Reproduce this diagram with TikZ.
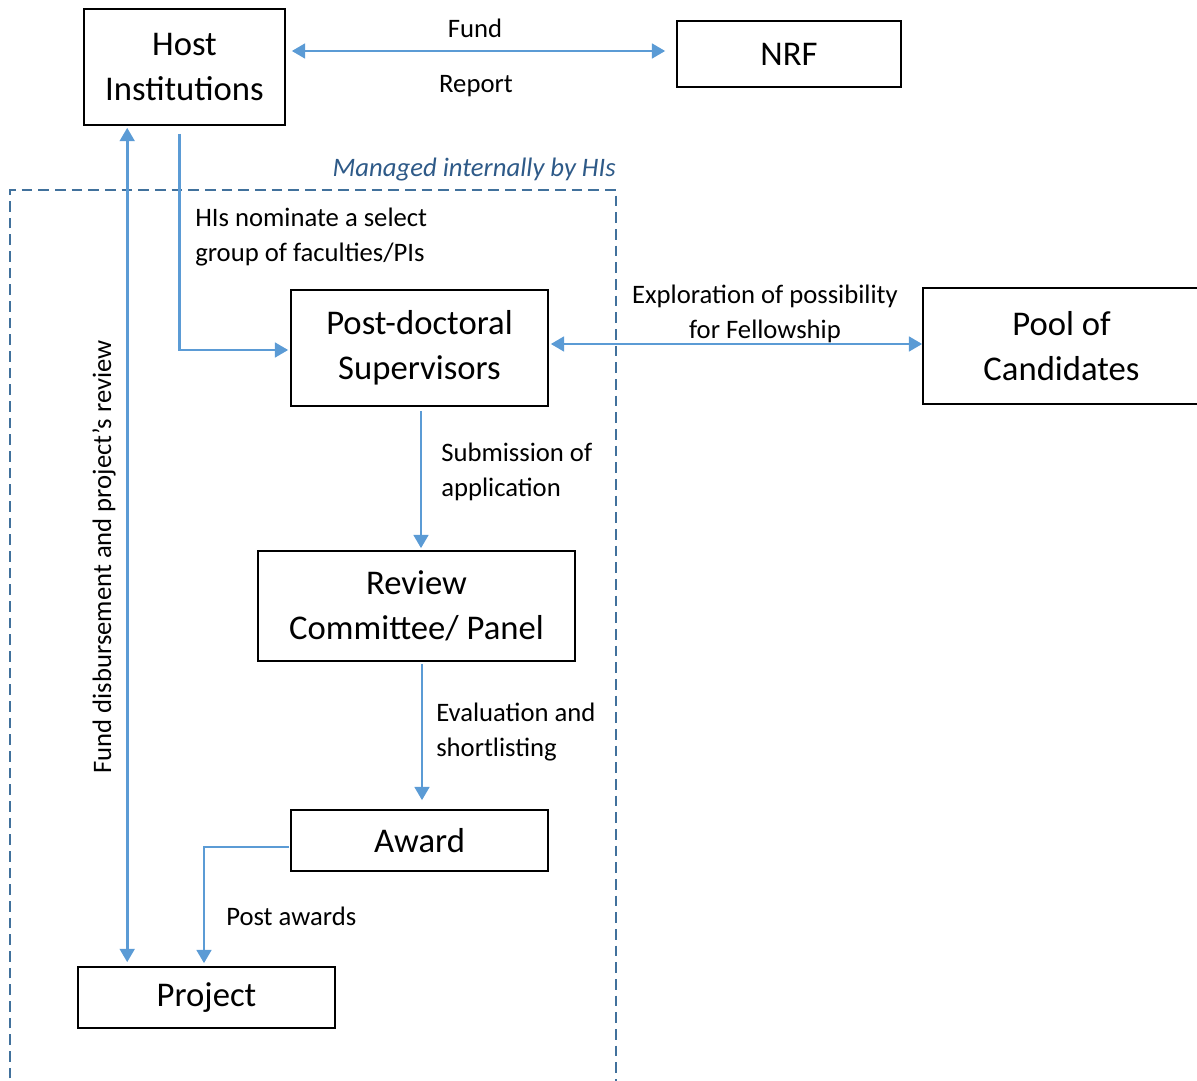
\documentclass[tikz,border=0pt]{standalone}
\usepackage{fontspec}
\setmainfont{Carlito}
\usetikzlibrary{arrows.meta,calc}
\definecolor{arrowblue}{HTML}{5B9BD5}
\definecolor{dashblue}{HTML}{41719C}
\definecolor{labelblue}{HTML}{2E5A88}
\begin{document}
\begin{tikzpicture}[x=0.75pt,y=-0.75pt,
  box/.style={draw=black,line width=1.2pt,inner sep=0pt,align=center,
    font=\fontsize{26}{33.75}\selectfont},
  lbl/.style={inner sep=0pt,font=\fontsize{20}{26.25}\selectfont},
  conn/.style={draw=arrowblue,line width=2.1pt,-{Triangle[length=10pt,width=11pt]}},
  biconn/.style={draw=arrowblue,line width=2.1pt,{Triangle[length=10pt,width=11pt]}-{Triangle[length=10pt,width=11pt]}},
  dashframe/.style={draw=dashblue,line width=1.5pt,dash pattern=on 8pt off 4.5pt}]
\useasboundingbox (0,0) rectangle (1197,1081);

% dashed frame
\draw[dashframe] (10,1095) -- (10,190) -- (616,190) -- (616,1095);
\node[lbl,anchor=east,text=labelblue,font=\fontsize{20}{26.25}\selectfont\itshape] (managed) at (616,170) {Managed internally by HIs};

% boxes
\node[box,minimum width=150.75pt,minimum height=87pt] (host) at (184.5,67) {Host\\Institutions};
\node[box,minimum width=168pt,minimum height=49.5pt] (nrf) at (789,54) {NRF};
\node[box,minimum width=192.75pt,minimum height=87pt] (postdoc) at (419.5,348) {Post-doctoral\\Supervisors};
\node[box,minimum width=207.75pt,minimum height=87pt] (pool) at (1061.5,346) {Pool of\\Candidates};
\node[box,minimum width=237.75pt,minimum height=82.5pt] (review) at (416.5,606) {Review\\Committee/ Panel};
\node[box,minimum width=192.75pt,minimum height=45.75pt] (award) at (419.5,840.5) {Award};
\node[box,minimum width=192.75pt,minimum height=45.75pt] (project) at (206.5,997.5) {Project};

% connectors
\draw[biconn] ($(host.east)+(6,-16)$) -- ($(nrf.west)+(-11,-3)$);
\draw[biconn] ($(host.south west)+(44,2)$) -- ($(project.north west)+(50,-4)$);
\draw[conn] ($(host.south west)+(96,8)$) |- ($(postdoc.west)+(-2,2)$);
\draw[biconn] ($(postdoc.east)+(2,-4)$) -- ($(pool.west)+(0,-2)$);
\draw[conn] ($(postdoc.south)+(1.5,4)$) -- ($(review.north)+(4.5,-2)$);
\draw[conn] ($(review.south)+(5.5,2)$) -- ($(award.north)+(2.5,-9)$);
\draw[conn] ($(award.west)+(-1,6.5)$) -| ($(project.north)+(-2.5,-3)$);

% labels
\node[lbl] (fund) at (475,28) {Fund};
\node[lbl] (report) at (476,86) {Report};
\node[lbl,anchor=west,align=left] (nominate) at (195,237.5) {HIs nominate a select\\group of faculties/PIs};
\node[lbl,align=center] (explore) at (765,313.5) {Exploration of possibility\\for Fellowship};
\node[lbl,anchor=west,align=left] (submit) at (441,471.5) {Submission of\\application};
\node[lbl,anchor=west,align=left] (evaluate) at (436,732.5) {Evaluation and\\shortlisting};
\node[lbl,anchor=west] (postawards) at (226,916) {Post awards};
\node[lbl,rotate=90] (disburse) at (104,557) {Fund disbursement and project’s review};
\end{tikzpicture}
\end{document}
